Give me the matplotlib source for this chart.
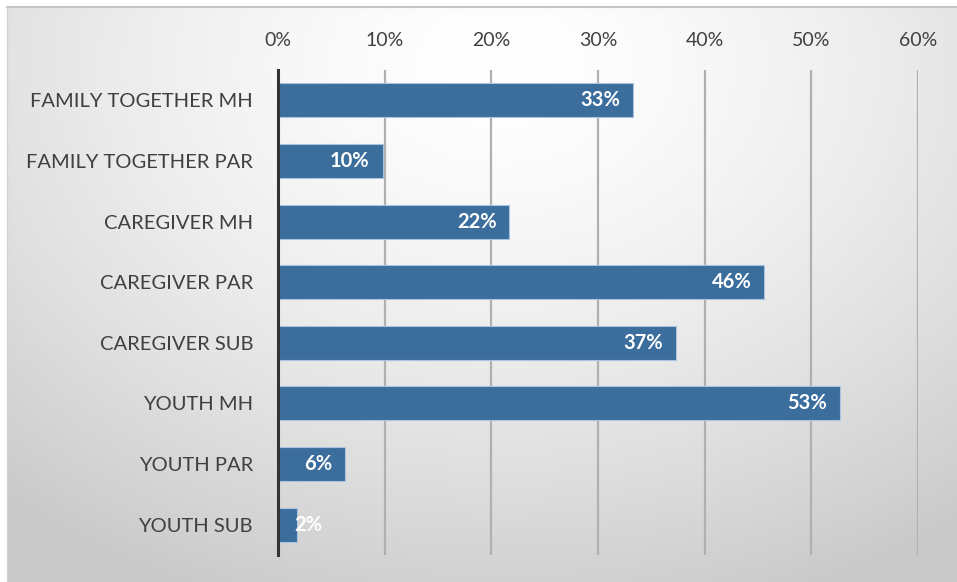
#!/usr/bin/env python3
"""Horizontal bar chart of program percentages on a grey gradient panel."""

import numpy as np
import matplotlib

matplotlib.use("Agg")
import matplotlib.pyplot as plt
from matplotlib.ticker import FuncFormatter

CATEGORIES = [
    "FAMILY TOGETHER MH",
    "FAMILY TOGETHER PAR",
    "CAREGIVER MH",
    "CAREGIVER PAR",
    "CAREGIVER SUB",
    "YOUTH MH",
    "YOUTH PAR",
    "YOUTH SUB",
]
VALUES = [33.3, 9.8, 21.7, 45.6, 37.3, 52.7, 6.3, 1.8]
LABELS = ["33%", "10%", "22%", "46%", "37%", "53%", "6%", "2%"]
TICKS = [0, 10, 20, 30, 40, 50, 60]

BAR_COLOR = "#3B6D9D"
TEXT_COLOR = "#404040"
FONT = ["Lato", "DejaVu Sans"]

W, H = 957, 582


def gradient_image(nx=400, ny=250):
    xs = np.linspace(0, 1, nx)
    ys = np.linspace(0, 1, ny)
    gx, gy = np.meshgrid(xs, ys)
    # brightest near the upper middle, greying toward edges
    d = np.sqrt(((gx - 0.52) / 0.8) ** 2 + ((gy - 0.1) / 1.0) ** 2)
    d = np.clip(d, 0, 1)
    level = 1.0 - 0.21 * d ** 1.5
    return np.dstack([level, level, level])


def main():
    fig = plt.figure(figsize=(W / 100, H / 100), dpi=100)
    fig.patch.set_facecolor("white")

    bg = fig.add_axes([7 / W, 0, 1 - 7 / W, 1 - 7 / H])
    bg.imshow(gradient_image(), aspect="auto", extent=[0, 1, 1, 0], interpolation="bilinear")
    bg.set_xlim(0, 1)
    bg.set_ylim(1, 0)
    bg.axis("off")
    fig.add_artist(plt.Line2D([7 / W, 1], [1 - 7 / H, 1 - 7 / H], color="#C4C4C4", lw=1.5))
    fig.add_artist(plt.Line2D([7 / W, 7 / W], [0, 1 - 7 / H], color="#D4D4D4", lw=1.0))

    left, right = 278 / W, 918 / W
    top, bottom = 1 - 70 / H, 1 - 555 / H
    ax = fig.add_axes([left, bottom, right - left, top - bottom])
    ax.patch.set_alpha(0)

    y = np.arange(len(CATEGORIES))
    ax.barh(y, VALUES, height=0.56, color=BAR_COLOR, edgecolor="#A9C4E0", linewidth=0.8, zorder=3)

    ax.set_xlim(0, 60)
    ax.set_ylim(len(CATEGORIES) - 0.5, -0.5)
    ax.set_xticks(TICKS)
    ax.xaxis.set_major_formatter(FuncFormatter(lambda v, _: f"{v:.0f}%"))
    ax.xaxis.tick_top()
    ax.tick_params(axis="x", length=0, pad=15, labelsize=14, labelcolor=TEXT_COLOR)
    ax.set_yticks(y)
    ax.set_yticklabels(CATEGORIES)
    ax.tick_params(axis="y", length=0, pad=18, labelsize=14.5, labelcolor=TEXT_COLOR)
    for lab in ax.get_xticklabels() + ax.get_yticklabels():
        lab.set_family(FONT)

    ax.grid(axis="x", color="#B0B0B0", linewidth=1.6, zorder=0)
    for side in ["top", "right", "bottom"]:
        ax.spines[side].set_visible(False)
    ax.spines["left"].set_color("#333333")
    ax.spines["left"].set_linewidth(2.2)
    ax.spines["left"].set_zorder(4)

    for yi, v, lab in zip(y, VALUES, LABELS):
        if v < 4:
            ax.text(1.5, yi, lab, ha="left", va="center", color="white", fontsize=14.5,
                    fontweight="bold", family=FONT, zorder=5)
        else:
            ax.text(v - 1.2, yi, lab, ha="right", va="center", color="white", fontsize=14.5,
                    fontweight="bold", family=FONT, zorder=5)

    fig.savefig("out.png", dpi=100)
    plt.close(fig)


if __name__ == "__main__":
    main()
